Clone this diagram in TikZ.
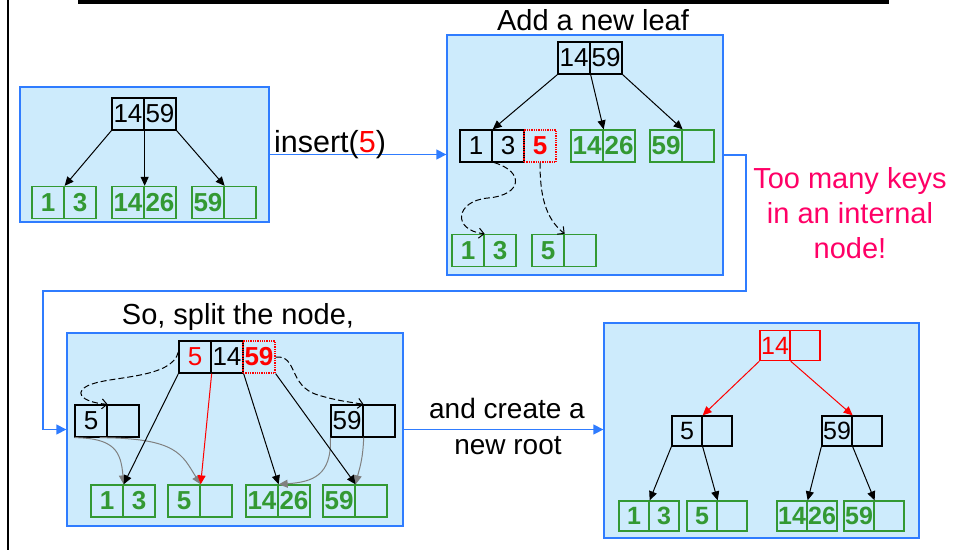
\documentclass[tikz,border=0pt]{standalone}
\usepackage{fontspec}
\setmainfont{Liberation Sans}
\usetikzlibrary{arrows.meta}
\definecolor{pfill}{HTML}{CDEBFC}
\definecolor{pblue}{HTML}{2F7CFF}
\definecolor{lgreen}{HTML}{339933}
\definecolor{pink}{HTML}{FF0066}
\tikzset{
  panel/.style={draw=pblue, line width=1.3pt, fill=pfill, inner sep=0pt, anchor=center},
  cell/.style={draw, line width=1.3pt, minimum width=32pt, minimum height=32pt, inner sep=0pt, font=\fontsize{26}{26}\selectfont},
  scell/.style={cell, minimum width=30pt, minimum height=30pt, font=\fontsize{25}{25}\selectfont},
  gcell/.style={cell, draw=lgreen, text=lgreen, font=\fontsize{26}{26}\selectfont\bfseries},
  sgcell/.style={scell, draw=lgreen, text=lgreen, font=\fontsize{25}{25}\selectfont\bfseries},
  rdcell/.style={cell, draw=red, densely dotted, text=red, font=\fontsize{26}{26}\selectfont\bfseries},
  arr/.style={line width=1pt, -{Triangle[length=9pt,width=8pt]}},
  garr/.style={arr, draw=gray},
  rarr/.style={arr, draw=red},
  darr/.style={line width=1pt, dash pattern=on 6pt off 3pt, -{Straight Barb[length=5pt,width=10pt]}},
  barr/.style={draw=pblue, line width=1.3pt, -{Triangle[length=10pt,width=10pt]}},
  bigtext/.style={font=\fontsize{29}{34}\selectfont, inner sep=0pt, anchor=base}
}
\begin{document}
\begin{tikzpicture}[x=1pt,y=-1pt]
\useasboundingbox (0,0) rectangle (958,550);
% frame lines
\draw[line width=4pt] (78,2) -- (889,2);
\draw[line width=2pt] (7.7,0) -- (7.7,550);

% panels
\node[panel, minimum width=249pt, minimum height=135pt] (P1) at (144.5,154.5) {};
\node[panel, minimum width=276pt, minimum height=240pt] (P2) at (585,155) {};
\node[panel, minimum width=336pt, minimum height=193pt] (P3) at (235,429.5) {};
\node[panel, minimum width=315pt, minimum height=215pt] (P4) at (761.5,430.5) {};

% ---------- panel 1
\node[cell] (r1a) at (128,114) {14};
\node[cell] (r1b) at (160,114) {59};
\node[gcell] (l11a) at (48,202.5) {1};
\node[gcell] (l11b) at (80,202.5) {3};
\node[gcell] (l12a) at (128,202.5) {14};
\node[gcell] (l12b) at (160,202.5) {26};
\node[gcell] (l13a) at (208,202.5) {59};
\node[gcell] (l13b) at (240,202.5) {};
\draw[arr] (r1a.south west) -- (l11a.north east);
\draw[arr] (r1a.north east) -- (l12a.north east);
\draw[arr] (r1b.south east) -- (l13a.north east);

% insert(5)
\draw[barr] (P1.east) -- (P1.east -| P2.west);
\node[bigtext, font=\fontsize{30.5}{34}\selectfont] (ins) at (330,152) {insert(\textcolor{red}{5})};

% ---------- panel 2
\node[bigtext] (t2) at (593,30) {Add a new leaf};
\node[cell] (r2a) at (574,58) {14};
\node[cell] (r2b) at (606,58) {59};
\node[cell] (n2a) at (476,146) {1};
\node[cell] (n2b) at (508,146) {3};
\node[rdcell] (n2c) at (540,146) {5};
\node[gcell] (l22a) at (587,146) {14};
\node[gcell] (l22b) at (619,146) {26};
\node[gcell] (l23a) at (666,146) {59};
\node[gcell] (l23b) at (698,146) {};
\node[gcell] (l21a) at (468,250.5) {1};
\node[gcell] (l21b) at (500,250.5) {3};
\node[gcell] (l24a) at (548,250.5) {5};
\node[gcell] (l24b) at (580,250.5) {};
\draw[arr] (r2a.south west) -- (n2a.north east);
\draw[arr] (r2a.south east) -- (l22a.north east);
\draw[arr] (r2b.south east) -- (l23a.north east);
\draw[darr] ([xshift=3pt]n2b.south west) .. controls (525,172) and (522,195) .. (488,198)
   .. controls (455,201) and (452,230) .. (l21a.north east);
\draw[darr] (n2c.south) .. controls (540,195) and (545,218) .. (l24a.north east);

% too many keys
\node[bigtext, text=pink] (k1) at (850,188) {Too many keys};
\node[bigtext, text=pink] (k2) at (850,223) {in an internal};
\node[bigtext, text=pink] (k3) at (850,258) {node!};

% connector P2 -> P3
\coordinate (c1) at (746,291);
\coordinate (c2) at (43,291);
\draw[barr] (P2.east) -| (c1) -- (c2) |- (P3.west);

% ---------- panel 3
\node[bigtext] (t3) at (238,324) {So, split the node,};
\node[cell, text=red] (r3a) at (195,357) {5};
\node[cell] (r3b) at (227,357) {14};
\node[rdcell] (r3c) at (259,357) {59};
\node[cell] (n5a) at (91,421) {5};
\node[cell] (n5b) at (123,421) {};
\node[cell] (n59a) at (347,421) {59};
\node[cell] (n59b) at (379,421) {};
\node[gcell] (l31a) at (107,501) {1};
\node[gcell] (l31b) at (139,501) {3};
\node[gcell] (l32a) at (184,501) {5};
\node[gcell] (l32b) at (216,501) {};
\node[gcell] (l33a) at (262,501) {14};
\node[gcell] (l33b) at (294,501) {26};
\node[gcell] (l34a) at (339,501) {59};
\node[gcell] (l34b) at (371,501) {};
\draw[darr] ([yshift=5pt]r3a.west) .. controls (172,378) and (115,376) .. (92,384)
   .. controls (72,391) and (80,402) .. (n5a.north east);
\draw[darr] (r3c.east) .. controls (298,355) and (288,386) .. (318,395)
   .. controls (338,401) and (350,402) .. (n59a.north east);
\draw[garr] (n5a.south west) .. controls (115,438) and (121,452) .. (l31a.north east);
\draw[garr] ([xshift=-8pt]n5a.south east) .. controls (178,438) and (182,455) .. (l32a.north east);
\draw[garr] (n59a.south west) .. controls (332,476) and (312,482) .. (l33a.north east);
\draw[garr] (n59a.south east) .. controls (363,460) and (359,470) .. (l34a.north east);
\draw[arr] (r3a.south west) -- (l31a.north east);
\draw[rarr] (r3a.south east) -- (l32a.north east);
\draw[arr] (r3b.south east) -- (l33a.north east);
\draw[arr] (r3c.south east) -- (l34a.north east);

% and create a new root
\draw[barr] (P3.east) -- (P3.east -| P4.west);
\node[bigtext, font=\fontsize{28}{34}\selectfont] (a1) at (507,418) {and create a};
\node[bigtext, font=\fontsize{28}{34}\selectfont] (a2) at (508,454) {new root};

% ---------- panel 4
\node[scell, draw=red, text=red] (r4a) at (775,345.5) {14};
\node[scell, draw=red] (r4b) at (805,345.5) {};
\node[scell] (m5a) at (687,431) {5};
\node[scell] (m5b) at (717,431) {};
\node[scell] (m59a) at (837,431) {59};
\node[scell] (m59b) at (867,431) {};
\node[sgcell] (q1a) at (634,516) {1};
\node[sgcell] (q1b) at (664,516) {3};
\node[sgcell] (q2a) at (702,516) {5};
\node[sgcell] (q2b) at (732,516) {};
\node[sgcell] (q3a) at (792,516) {14};
\node[sgcell] (q3b) at (822,516) {26};
\node[sgcell] (q4a) at (859,516) {59};
\node[sgcell] (q4b) at (889,516) {};
\draw[rarr] (r4a.south west) -- (m5a.north east);
\draw[rarr] (r4a.south east) -- (m59a.north east);
\draw[arr] (m5a.south west) -- (q1a.north east);
\draw[arr] (m5a.south east) -- (q2a.north east);
\draw[arr] (m59a.south west) -- (q3a.north east);
\draw[arr] (m59a.south east) -- (q4a.north east);
\end{tikzpicture}
\end{document}
